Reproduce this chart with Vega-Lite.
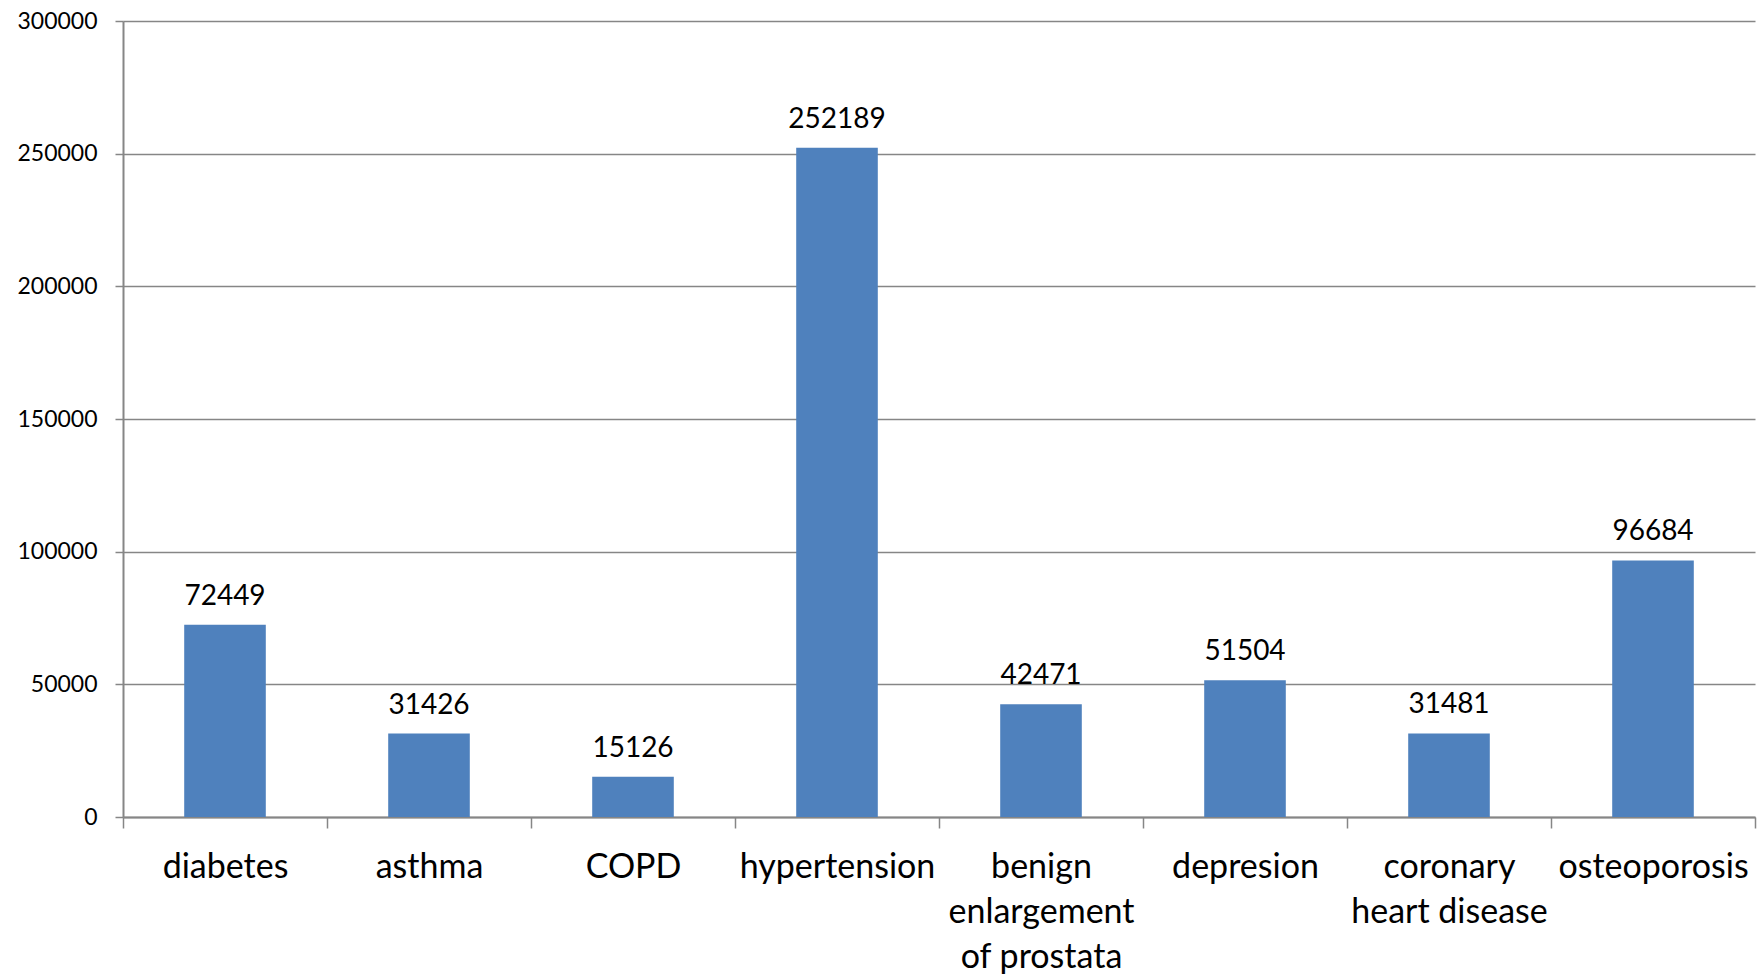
{
  "$schema": "https://vega.github.io/schema/vega-lite/v6.json",
  "width": 1632,
  "height": 796,
  "autosize": {"type": "none"},
  "padding": {"left": 123, "top": 21, "right": 7, "bottom": 157},
  "background": "white",
  "config": {
    "view": {"stroke": null},
    "font": "Lato",
    "axis": {"labelFont": "Lato", "labelColor": "black"}
  },
  "data": {
    "values": [
      {"disease": "diabetes", "count": 72449},
      {"disease": "asthma", "count": 31426},
      {"disease": "COPD", "count": 15126},
      {"disease": "hypertension", "count": 252189},
      {"disease": "benign enlargement of prostata", "count": 42471},
      {"disease": "depresion", "count": 51504},
      {"disease": "coronary heart disease", "count": 31481},
      {"disease": "osteoporosis", "count": 96684}
    ]
  },
  "encoding": {
    "x": {
      "field": "disease",
      "type": "nominal",
      "sort": null,
      "scale": {"paddingInner": 0, "paddingOuter": 0},
      "axis": {
        "title": null,
        "labelAngle": 0,
        "labelFontSize": 34,
        "labelLimit": 0,
        "labelOverlap": false,
        "labelPadding": 22,
        "labelLineHeight": 45,
        "labelBaseline": "top",
        "labelExpr": "datum.value == 'benign enlargement of prostata' ? ['benign', 'enlargement', 'of prostata'] : datum.value == 'coronary heart disease' ? ['coronary', 'heart disease'] : datum.value",
        "tickBand": "extent",
        "tickSize": 11,
        "tickColor": "#868686",
        "tickWidth": 1.5,
        "domainColor": "#868686",
        "domainWidth": 2,
        "grid": false
      }
    },
    "y": {
      "field": "count",
      "type": "quantitative",
      "scale": {"domain": [0, 300000], "nice": false},
      "axis": {
        "title": null,
        "values": [0, 50000, 100000, 150000, 200000, 250000, 300000],
        "format": "d",
        "labelFontSize": 23,
        "labelPadding": 18,
        "tickSize": 8,
        "tickColor": "#868686",
        "tickWidth": 1.5,
        "domainColor": "#868686",
        "domainWidth": 2,
        "grid": true,
        "gridColor": "#868686",
        "gridWidth": 1.5,
        "gridOpacity": 1
      }
    }
  },
  "layer": [
    {
      "mark": {"type": "bar", "color": "#4f81bd", "width": {"band": 0.4}}
    },
    {
      "mark": {"type": "text", "baseline": "alphabetic", "dy": -20, "fontSize": 28, "color": "black", "font": "Lato"},
      "encoding": {"text": {"field": "count", "type": "quantitative", "format": "d"}}
    }
  ]
}
